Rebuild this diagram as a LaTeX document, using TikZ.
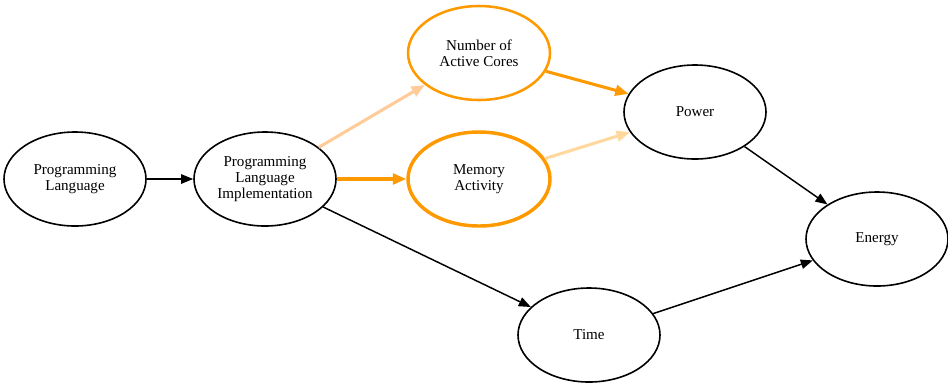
\documentclass[tikz,border=0pt]{standalone}
\usepackage{fontspec}
\setmainfont{Liberation Serif}
\usetikzlibrary{shapes.geometric,arrows.meta}

\tikzset{
	var/.style={ellipse, draw, line width=1.2pt, inner sep=0pt, minimum width=106.5pt, minimum height=70.5pt, align=center, font=\fontsize{11.3}{12}\selectfont},
	hot/.style={draw={rgb, 255:red, 255; green, 153; blue, 0 }},
	link/.style={line width=1.1pt, -{Triangle[length=9pt,width=7pt]}},
	hotlink/.style={line width=2.3pt, -{Triangle[length=10pt,width=8pt]}}}
\tikzset{every picture/.style={line width=0.75pt}}

\begin{document}
\begin{tikzpicture}[x=0.75pt,y=0.75pt,yscale=-1,xscale=1]
	\useasboundingbox (0,0) rectangle (948,387);
	
	%Shape: Ellipse [id:plang] 
	\node [var] (plang) at (75,179) {Programming\\Language};
	%Shape: Ellipse [id:pimpl] 
	\node [var] (pimpl) at (265,179) {Programming\\Language\\Implementation};
	%Shape: Ellipse [id:cores] 
	\node [var, hot, line width=1.9pt] (cores) at (479,53) {Number of\\Active Cores};
	%Shape: Ellipse [id:memory] 
	\node [var, hot, line width=2.6pt] (memory) at (479,179) {Memory\\Activity};
	%Shape: Ellipse [id:power] 
	\node [var] (power) at (695,112) {Power};
	%Shape: Ellipse [id:time] 
	\node [var] (time) at (589,335) {Time};
	%Shape: Ellipse [id:energy] 
	\node [var] (energy) at (877,239) {Energy};
	
	%Straight Lines 
	\draw [link] (plang) -- (pimpl);
	\draw [hotlink, color={rgb, 255:red, 255; green, 204; blue, 153 }] (pimpl) -- (cores);
	\draw [hotlink, color={rgb, 255:red, 255; green, 153; blue, 0 }] (pimpl) -- (memory);
	\draw [hotlink, color={rgb, 255:red, 255; green, 153; blue, 0 }] (cores) -- (power);
	\draw [hotlink, color={rgb, 255:red, 255; green, 216; blue, 158 }] (memory) -- (power);
	\draw [link] (pimpl) -- (time);
	\draw [link] (power) -- (energy);
	\draw [link] (time) -- (energy);
	
\end{tikzpicture}
\end{document}
